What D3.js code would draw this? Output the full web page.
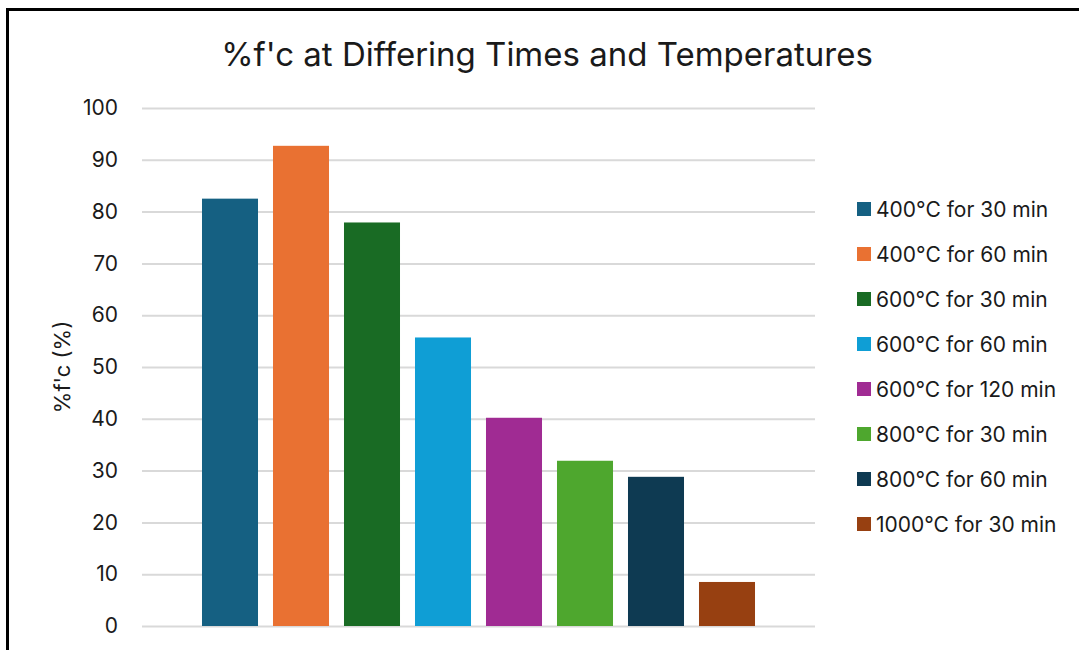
<!DOCTYPE html>
<html>
<head>
<meta charset="utf-8">
<script src="https://cdn.jsdelivr.net/npm/d3@7"></script>
<style>
  html, body { margin: 0; padding: 0; background: #fff; }
  svg { display: block; }
  text { font-family: Inter, "Liberation Sans", Arial, sans-serif; fill: #1a1a1a; }
</style>
</head>
<body>
<svg id="chart" width="1079" height="650"></svg>
<script>
// Treatment conditions (one series each) and residual strength as % of f'c
const series = [
  "400°C for 30 min", "400°C for 60 min", "600°C for 30 min", "600°C for 60 min",
  "600°C for 120 min", "800°C for 30 min", "800°C for 60 min", "1000°C for 30 min"
];
const values = [82.5, 92.7, 77.9, 55.7, 40.2, 31.9, 28.8, 8.5];
const colors = ["#156082", "#E97132", "#196B24", "#0F9ED5", "#A02B93", "#4EA72E", "#0E3A52", "#974011"];
const yTicks = [0, 10, 20, 30, 40, 50, 60, 70, 80, 90, 100];

const svg = d3.select("#chart");

// Chart frame
svg.append("rect")
  .attr("x", 7.5).attr("y", 9.5).attr("width", 1079).attr("height", 660)
  .attr("fill", "#fff").attr("stroke", "#000").attr("stroke-width", 3);

const plot = { left: 142, right: 815, top: 108, bottom: 626 };

const y = d3.scaleLinear().domain([0, 100]).range([plot.bottom, plot.top]);
const x = d3.scaleBand().domain(series)
  .range([194.5, 762.5]).paddingInner(0.211).paddingOuter(0.1055);

// Gridlines and tick labels
const yAxis = d3.axisLeft(y).tickValues(yTicks).tickSize(-(plot.right - plot.left)).tickPadding(24);
const gy = svg.append("g").attr("transform", `translate(${plot.left},0)`).call(yAxis);
gy.select(".domain").remove();
gy.selectAll(".tick line").attr("stroke", "#d9d9d9").attr("stroke-width", 2);
gy.selectAll(".tick text").attr("font-size", 21).attr("fill", "#1a1a1a")
  .style("font-family", "Inter, 'Liberation Sans', Arial, sans-serif");

// Bars
svg.append("g").selectAll("rect").data(series).join("rect")
  .attr("x", d => x(d))
  .attr("width", x.bandwidth())
  .attr("y", (d, i) => y(values[i]))
  .attr("height", (d, i) => y(0) - y(values[i]))
  .attr("fill", (d, i) => colors[i]);

// Title
svg.append("text")
  .attr("x", 547).attr("y", 66).attr("text-anchor", "middle")
  .attr("font-size", 33).text("%f'c at Differing Times and Temperatures");

// Y-axis title
svg.append("text")
  .attr("transform", "translate(70,367) rotate(-90)")
  .attr("text-anchor", "middle").attr("font-size", 22).text("%f'c (%)");

// Legend
const legend = svg.append("g").selectAll("g").data(series).join("g")
  .attr("transform", (d, i) => `translate(857,${209 + i * 45})`);
legend.append("rect").attr("x", 0).attr("y", -7).attr("width", 14).attr("height", 14)
  .attr("fill", (d, i) => colors[i]);
legend.append("text").attr("x", 19).attr("y", 8).attr("font-size", 21).text(d => d);
</script>
</body>
</html>
